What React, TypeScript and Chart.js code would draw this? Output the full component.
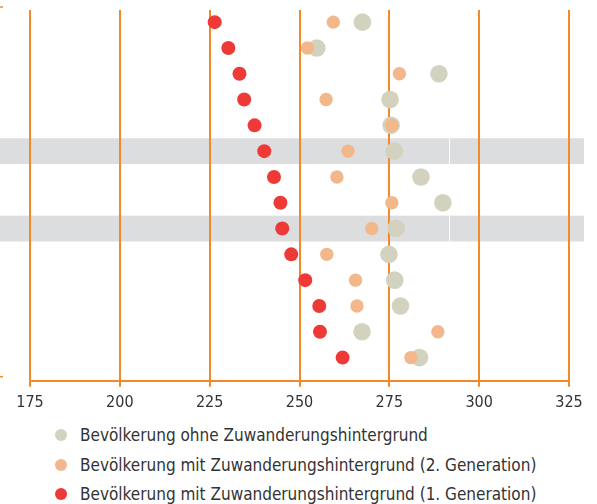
import React, { useEffect, useRef } from "react";
import { Chart, registerables } from "chart.js";

Chart.register(...registerables);

// Rows (top to bottom), 14 groups
const rows = [0, 1, 2, 3, 4, 5, 6, 7, 8, 9, 10, 11, 12, 13];
const highlightedRows = [5, 8];

const ohneValues = [267.5, 254.8, 288.8, 275.2, 275.5, 276.4, 283.8, 289.9, 276.9, 274.9, 276.5, 278.1, 267.4, 283.4];
const gen2Values = [259.4, 252.2, 277.8, 257.4, 275.7, 263.5, 260.4, 275.7, 270.1, 257.6, 265.6, 266.0, 288.5, 281.0];
const gen1Values = [226.4, 230.2, 233.3, 234.6, 237.5, 240.2, 242.9, 244.7, 245.2, 247.7, 251.6, 255.5, 255.7, 262.0];

const xTicks = [175, 200, 225, 250, 275, 300, 325];

const legendLabels = [
  "Bevölkerung ohne Zuwanderungshintergrund",
  "Bevölkerung mit Zuwanderungshintergrund (2. Generation)",
  "Bevölkerung mit Zuwanderungshintergrund (1. Generation)",
];

const ORANGE = "#F28A2A";
const GRAY = "#D3D2BF";
const PEACH = "#F2B88C";
const RED = "#EE3A37";
const BAND = "#DCDDDF";
const FONT = "'Liberation Sans Narrow', 'DejaVu Sans Condensed', 'Liberation Sans', sans-serif";

const bandPlugin = {
  id: "bands",
  beforeDraw(chart: any) {
    const { ctx, chartArea, scales } = chart;
    const y = scales.y;
    const x = scales.x;
    ctx.save();
    highlightedRows.forEach((r) => {
      const top = y.getPixelForValue(r - 0.5);
      const bot = y.getPixelForValue(r + 0.5);
      ctx.fillStyle = BAND;
      ctx.fillRect(0, top, chartArea.right + 15, bot - top);
      ctx.fillStyle = "#FFFFFF";
      const wx = x.getPixelForValue(291.6);
      ctx.fillRect(wx, top, 1, bot - top);
    });
    // small left-edge tick marks
    ctx.strokeStyle = ORANGE;
    ctx.lineWidth = 1.5;
    ctx.beginPath();
    ctx.moveTo(0, chartArea.top - 3);
    ctx.lineTo(3, chartArea.top - 3);
    ctx.moveTo(0, chartArea.bottom - 4);
    ctx.lineTo(3, chartArea.bottom - 4);
    ctx.stroke();
    ctx.restore();
  },
};

export default function App() {
  const ref = useRef<HTMLCanvasElement | null>(null);

  useEffect(() => {
    document.body.style.margin = "0";
    if (!ref.current) return;
    const mk = (vals: number[]) => vals.map((v, i) => ({ x: v, y: rows[i] }));
    const chart = new Chart(ref.current, {
      type: "scatter",
      data: {
        datasets: [
          { label: legendLabels[2], data: mk(gen1Values), backgroundColor: RED, borderWidth: 0, pointRadius: 7, order: 0 },
          { label: legendLabels[1], data: mk(gen2Values), backgroundColor: PEACH, borderWidth: 0, pointRadius: 6.7, order: 1 },
          { label: legendLabels[0], data: mk(ohneValues), backgroundColor: GRAY, borderWidth: 0, pointRadius: 8.8, order: 2 },
        ],
      },
      options: {
        responsive: false,
        animation: false,
        layout: { padding: { left: 30, right: 28, top: 10, bottom: 2 } },
        plugins: { legend: { display: false }, tooltip: { enabled: false } },
        scales: {
          x: {
            type: "linear",
            min: 175,
            max: 325,
            afterBuildTicks: (axis: any) => {
              axis.ticks = xTicks.map((v) => ({ value: v }));
            },
            grid: { color: ORANGE, lineWidth: 2, drawTicks: true, tickLength: 6, tickColor: ORANGE },
            border: { color: ORANGE, width: 2 },
            ticks: { color: "#333333", padding: 6, font: { family: FONT, size: 16 } },
          },
          y: {
            type: "linear",
            display: false,
            reverse: true,
            min: -0.47,
            max: 13.9,
          },
        },
      },
      plugins: [bandPlugin],
    });
    return () => chart.destroy();
  }, []);

  const colors = [GRAY, PEACH, RED];
  return (
    <div style={{ position: "relative", width: 597, height: 504, fontFamily: FONT }}>
      <canvas ref={ref} width={597} height={420} style={{ display: "block" }} />
      {legendLabels.map((l, i) => (
        <div
          key={i}
          style={{
            position: "absolute",
            left: 55,
            top: 424 + i * 29.5,
            height: 22,
            display: "flex",
            alignItems: "center",
            fontSize: 17,
            color: "#333333",
            whiteSpace: "nowrap",
          }}
        >
          <span
            style={{
              display: "inline-block",
              width: 12,
              height: 12,
              borderRadius: "50%",
              background: colors[i],
              marginRight: 13,
            }}
          />
          {l}
        </div>
      ))}
    </div>
  );
}
